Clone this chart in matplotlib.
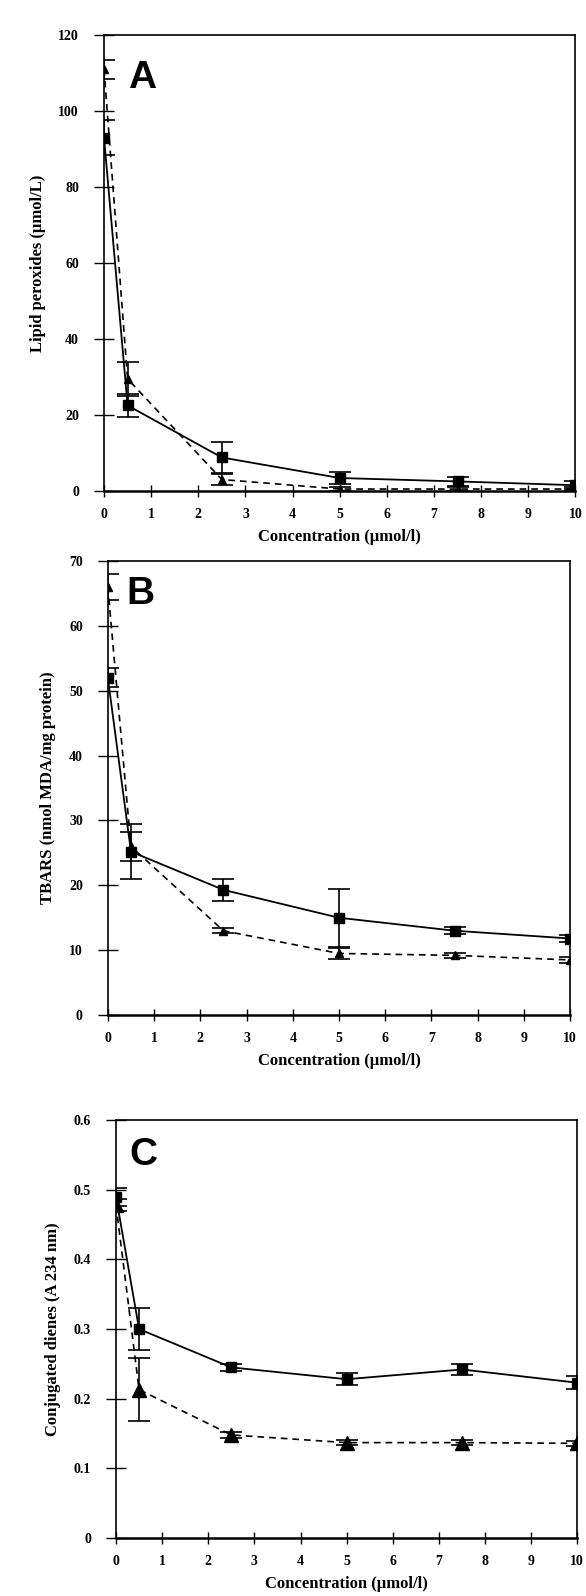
import matplotlib
matplotlib.use("Agg")
import matplotlib.pyplot as plt
import numpy as np

plt.rcParams['font.family'] = ['Liberation Serif', 'DejaVu Serif']
plt.rcParams['font.weight'] = 'bold'

conc = [0, 0.5, 2.5, 5, 7.5, 10]

# panel A - lipid peroxides
a_sq = [93, 22.5, 8.8, 3.4, 2.5, 1.5]
a_sq_err = [4.5, 3, 4, 1.5, 1.2, 1]
a_tri = [111, 29.5, 3, 0.5, 0.5, 0.5]
a_tri_err = [2.5, 4.5, 1.5, 0.5, 0.5, 0.5]

# panel B - TBARS
b_sq = [52, 25.2, 19.3, 15, 13, 11.8]
b_sq_err = [1.5, 4.2, 1.7, 4.5, 0.5, 0.6]
b_tri = [66, 26, 13, 9.5, 9.2, 8.5]
b_tri_err = [2, 2.2, 0.4, 0.8, 0.4, 0.4]

# panel C - conjugated dienes
c_sq = [0.49, 0.30, 0.245, 0.228, 0.242, 0.223]
c_sq_err = [0.013, 0.03, 0.005, 0.009, 0.008, 0.009]
c_tri = [0.478, 0.213, 0.148, 0.137, 0.137, 0.136]
c_tri_err = [0.008, 0.045, 0.004, 0.004, 0.004, 0.004]

a_yticks = ['0', '20', '40', '60', '80', '100', '120']
b_yticks = ['0', '10', '20', '30', '40', '50', '60', '70']
c_yticks = ['0', '0.1', '0.2', '0.3', '0.4', '0.5', '0.6']

panels = [
    dict(sq=a_sq, sqe=a_sq_err, tri=a_tri, trie=a_tri_err, ymax=120, step=20,
         ylabel='Lipid peroxides (µmol/L)', letter='A', tri_ms=6,
         rect=[0.1775, 0.6924, 0.8045, 0.2857], lpos=(0.05, 0.945),
         ylabs=a_yticks),
    dict(sq=b_sq, sqe=b_sq_err, tri=b_tri, trie=b_tri_err, ymax=70, step=10,
         ylabel='TBARS (nmol MDA/mg protein)', letter='B', tri_ms=6,
         rect=[0.184, 0.364, 0.789, 0.2845], lpos=(0.04, 0.968),
         ylabs=b_yticks),
    dict(sq=c_sq, sqe=c_sq_err, tri=c_tri, trie=c_tri_err, ymax=0.6, step=0.1,
         ylabel='Conjugated dienes (A 234 nm)', letter='C', tri_ms=10,
         rect=[0.198, 0.0363, 0.787, 0.2619], lpos=(0.028, 0.96),
         ylabs=c_yticks),
]

fig = plt.figure(figsize=(5.86, 15.96), dpi=100)

for p in panels:
    ax = fig.add_axes(p['rect'])
    ax.errorbar(conc, p['tri'], yerr=p['trie'], color='black', lw=1.2,
                ls=(0, (4, 3)), marker='^', ms=p['tri_ms'], capsize=8,
                elinewidth=1.2, capthick=1.2)
    ax.errorbar(conc, p['sq'], yerr=p['sqe'], color='black', lw=1.3,
                ls='-', marker='s', ms=7, capsize=8,
                elinewidth=1.2, capthick=1.2)
    ax.set_xlim(0, 10)
    ax.set_ylim(0, p['ymax'])
    ax.set_xticks(range(11))
    yt = np.arange(len(p['ylabs'])) * p['step']
    ax.set_yticks(yt)
    ax.set_yticklabels(p['ylabs'])
    ax.tick_params(axis='x', direction='inout', length=8, width=1,
                   labelsize=10, pad=8)
    ax.tick_params(axis='y', direction='inout', length=14, width=1,
                   labelsize=10, pad=11)
    for s in ax.spines.values():
        s.set_linewidth(1.2)
    ax.spines['bottom'].set_linewidth(1.8)
    ax.set_xlabel('Concentration (µmol/l)', fontsize=12, fontweight='bold',
                  labelpad=6)
    ax.set_ylabel(p['ylabel'], fontsize=12, fontweight='bold', labelpad=9)
    ax.text(p['lpos'][0], p['lpos'][1], p['letter'], transform=ax.transAxes,
            fontsize=28, fontweight='bold', family='Liberation Sans',
            va='top', ha='left')

fig.savefig('out.png', dpi=100)
